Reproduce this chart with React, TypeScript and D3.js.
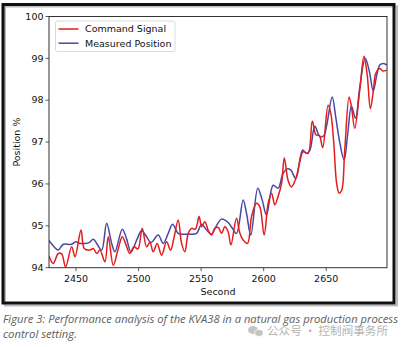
import React from "react";
import * as d3 from "d3";

const cmdTime = [2428.4, 2431.8, 2435.8, 2438.5, 2441.7, 2446.5, 2449.2, 2454.0, 2456.6, 2461.2, 2463.8, 2466.5, 2469.1, 2473.1, 2475.8, 2479.8, 2483.8, 2487.0, 2489.9, 2493.1, 2496.3, 2499.5, 2502.9, 2506.4, 2509.1, 2511.7, 2514.9, 2518.4, 2522.4, 2525.6, 2528.2, 2531.7, 2534.4, 2537.0, 2539.7, 2542.4, 2545.4, 2548.4, 2550.4, 2553.0, 2555.6, 2558.3, 2561.0, 2563.8, 2566.3, 2569.0, 2571.6, 2573.8, 2578.3, 2581.0, 2583.6, 2587.1, 2590.3, 2594.3, 2596.9, 2600.4, 2603.6, 2606.3, 2608.9, 2611.5, 2614.3, 2616.5, 2619.5, 2622.2, 2625.7, 2628.9, 2631.5, 2635.5, 2638.9, 2641.9, 2644.5, 2647.2, 2651.5, 2653.6, 2656.0, 2658.4, 2660.4, 2662.4, 2664.8, 2668.3, 2670.2, 2672.8, 2676.8, 2680.2, 2682.8, 2685.3, 2687.6, 2689.6, 2692.8, 2695.2, 2698.4];
const cmdValue = [94.28, 94.1, 94.34, 94.33, 94.02, 94.5, 94.26, 94.9, 94.46, 94.42, 94.46, 94.34, 94.42, 94.14, 94.74, 94.06, 94.46, 94.74, 94.55, 94.34, 94.5, 94.45, 94.94, 94.5, 94.6, 94.38, 94.58, 94.3, 94.62, 94.42, 94.7, 95.14, 94.58, 94.38, 94.82, 94.94, 94.92, 95.22, 94.98, 95.1, 94.9, 94.78, 94.94, 94.96, 94.82, 94.98, 94.86, 94.54, 95.18, 94.82, 94.66, 94.58, 95.22, 95.54, 95.46, 94.78, 95.54, 95.78, 95.5, 95.7, 96.01, 96.62, 96.09, 95.93, 96.13, 96.53, 96.77, 96.73, 97.5, 97.17, 97.16, 96.87, 97.88, 97.7, 97.0, 96.0, 95.78, 95.85, 96.8, 98.08, 97.84, 97.33, 98.24, 99.05, 98.6, 97.8, 98.2, 98.64, 98.76, 98.7, 98.72];

const posTime = [2428.4, 2432.4, 2435.8, 2439.8, 2446.5, 2449.7, 2453.2, 2457.2, 2460.4, 2463.8, 2466.5, 2470.5, 2474.5, 2478.5, 2481.1, 2487.0, 2490.3, 2493.9, 2498.5, 2502.4, 2506.4, 2509.9, 2515.7, 2519.7, 2523.7, 2527.2, 2531.7, 2535.7, 2541.0, 2546.4, 2550.4, 2554.4, 2558.3, 2562.2, 2566.3, 2571.6, 2574.6, 2578.3, 2583.6, 2586.3, 2589.7, 2595.3, 2598.8, 2602.3, 2607.6, 2611.5, 2615.5, 2618.9, 2621.7, 2625.7, 2629.4, 2631.3, 2634.2, 2636.9, 2640.9, 2644.9, 2648.0, 2650.4, 2654.8, 2657.6, 2660.8, 2664.3, 2667.2, 2670.2, 2673.4, 2676.8, 2681.2, 2684.4, 2687.6, 2690.4, 2692.8, 2696.0, 2698.4];
const posValue = [94.65, 94.5, 94.42, 94.56, 94.56, 94.62, 94.58, 94.58, 94.6, 94.68, 94.58, 94.42, 95.06, 94.58, 94.38, 94.92, 94.7, 94.38, 94.66, 94.88, 94.74, 94.6, 94.78, 94.58, 94.82, 95.04, 94.82, 94.8, 94.8, 94.82, 95.04, 94.9, 94.8, 95.0, 95.16, 95.08, 94.96, 94.82, 95.62, 95.3, 94.78, 95.9, 95.62, 95.26, 95.97, 95.9, 96.25, 96.36, 96.33, 96.13, 96.65, 96.81, 96.73, 96.8, 97.38, 97.13, 97.15, 97.4, 98.08, 97.6, 97.0, 96.57, 97.2, 97.86, 97.57, 98.3, 99.0, 98.7, 98.22, 98.6, 98.84, 98.88, 98.84];

const xTicks = [2450, 2500, 2550, 2600, 2650];
const yTicks = [94, 95, 96, 97, 98, 99, 100];
const seriesNames = ["Command Signal", "Measured Position"];
const seriesColors = ["#e41c1c", "#4848a4"];
const captionLines = [
  "Figure 3: Performance analysis of the KVA38 in a natural gas production process",
  "control setting.",
];
const watermark = "公众号 · 控制阀事务所";

export default function App() {
  const left = 49, right = 387, top = 16.5, bottom = 267.7;
  const x = d3.scaleLinear().domain([2428.4, 2698.6]).range([left, right]);
  const y = d3.scaleLinear().domain([94, 100]).range([bottom, top]);
  const line = d3
    .line<[number, number]>()
    .x((d) => x(d[0]))
    .y((d) => y(d[1]))
    .curve(d3.curveCatmullRom.alpha(0.5));
  const cmd = cmdTime.map((t, i) => [t, cmdValue[i]] as [number, number]);
  const pos = posTime.map((t, i) => [t, posValue[i]] as [number, number]);
  const font = "'DejaVu Sans', sans-serif";
  const axisColor = "#333";

  return (
    <svg
      width={402}
      height={347}
      style={{ position: "absolute", left: 0, top: 0, background: "#fff" }}
    >
      <rect x={0} y={0} width={402} height={347} fill="#fff" />
      <rect x={5} y={6.5} width={392} height={299} fill="none" stroke="#bbb" strokeWidth={2} />
      <rect x={3} y={4.5} width={391} height={298.5} fill="none" stroke="#111" strokeWidth={3} />

      <defs>
        <clipPath id="plotclip">
          <rect x={left} y={top} width={right - left} height={bottom - top} />
        </clipPath>
      </defs>

      <g clipPath="url(#plotclip)">
        <path d={line(pos) || ""} fill="none" stroke={seriesColors[1]} strokeWidth={1.5} strokeLinejoin="round" />
        <path d={line(cmd) || ""} fill="none" stroke={seriesColors[0]} strokeWidth={1.5} strokeLinejoin="round" />
      </g>
      <rect x={left} y={top} width={right - left} height={bottom - top} fill="none" stroke={axisColor} strokeWidth={1} />

      {yTicks.map((v) => (
        <g key={v}>
          <line x1={left - 3.5} x2={left} y1={y(v)} y2={y(v)} stroke={axisColor} strokeWidth={0.8} />
          <text x={left - 5.5} y={y(v)} dy="0.33em" textAnchor="end" fontFamily={font} fontSize={9.5} fill="#111">
            {v}
          </text>
        </g>
      ))}
      {xTicks.map((v) => (
        <g key={v}>
          <line x1={x(v)} x2={x(v)} y1={bottom} y2={bottom + 3.5} stroke={axisColor} strokeWidth={0.8} />
          <text x={x(v)} y={bottom + 14.5} textAnchor="middle" fontFamily={font} fontSize={9.5} fill="#111">
            {v}
          </text>
        </g>
      ))}
      <text x={(left + right) / 2} y={295} textAnchor="middle" fontFamily={font} fontSize={9.5} fill="#111">
        Second
      </text>
      <text
        transform={`translate(19.5, ${(top + bottom) / 2}) rotate(-90)`}
        textAnchor="middle"
        fontFamily={font}
        fontSize={9.5}
        fill="#111"
      >
        Position %
      </text>

      <rect x={55.5} y={21} width={119.5} height={30.5} rx={2} fill="#fff" fillOpacity={0.85} stroke="#d0d0d0" strokeWidth={0.8} />
      {seriesNames.map((name, i) => (
        <g key={name}>
          <line x1={58.5} x2={78.5} y1={29 + i * 14.2} y2={29 + i * 14.2} stroke={seriesColors[i]} strokeWidth={1.5} />
          <text x={85} y={29 + i * 14.2} dy="0.35em" fontFamily={font} fontSize={9.5} fill="#111">
            {name}
          </text>
        </g>
      ))}

      <text x={3} y={323} fontFamily="'Open Sans', sans-serif" fontStyle="italic" fontSize={10.5} fill="#5e5e5e" textLength={395} lengthAdjust="spacingAndGlyphs">
        {captionLines[0]}
      </text>
      <text x={3} y={338} fontFamily="'Open Sans', sans-serif" fontStyle="italic" fontSize={10.5} fill="#5e5e5e" textLength={74} lengthAdjust="spacingAndGlyphs">
        {captionLines[1]}
      </text>

      <g fill="#c4c4c4">
        <ellipse cx={253} cy={330} rx={5} ry={4} />
        <ellipse cx={259} cy={333} rx={4.2} ry={3.4} stroke="#fff" strokeWidth={0.8} />
      </g>
      <text x={267} y={335} fontFamily="'Noto Sans CJK SC', sans-serif" fontSize={11.5} fill="#b4b4b4" textLength={121} lengthAdjust="spacingAndGlyphs">
        {watermark}
      </text>
    </svg>
  );
}
